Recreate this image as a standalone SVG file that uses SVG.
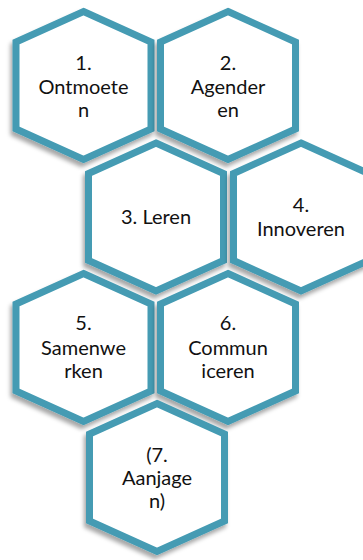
<svg xmlns="http://www.w3.org/2000/svg" xmlns:xlink="http://www.w3.org/1999/xlink" width="363" height="560" viewBox="0 0 363 560">
  <style>
    .hex { fill: #ffffff; stroke: #449BB3; stroke-width: 7; stroke-linejoin: miter; filter: url(#shadow); }
    .lbl { font-family: Lato, "Open Sans", "Liberation Sans", sans-serif; font-size: 20px; fill: #111111; text-anchor: middle; }
  </style>
  <defs>
    <filter id="shadow" x="-20%" y="-20%" width="140%" height="140%">
      <feDropShadow dx="-2" dy="4" stdDeviation="2" flood-color="#000000" flood-opacity="0.35"/>
    </filter>
    <path id="hexshape" d="M0,-74 L67.5,-43.5 L67.5,43.5 L0,74 L-67.5,43.5 L-67.5,-43.5 Z"/>
  </defs>
  <rect width="363" height="560" fill="#ffffff"/>
  <g id="connectors"></g>

  <g id="node1" transform="translate(83.5,85.5)">
    <use xlink:href="#hexshape" href="#hexshape" class="hex"/>
    <text class="lbl" x="0" y="-15.5">1.</text>
    <text class="lbl" x="0" y="8.5">Ontmoete</text>
    <text class="lbl" x="0" y="31.5">n</text>
  </g>
  <g id="node2" transform="translate(228,85.5)">
    <use xlink:href="#hexshape" href="#hexshape" class="hex"/>
    <text class="lbl" x="0" y="-15.5">2.</text>
    <text class="lbl" x="0" y="8.5">Agender</text>
    <text class="lbl" x="0" y="31.5">en</text>
  </g>
  <g id="node3" transform="translate(156,217)">
    <use xlink:href="#hexshape" href="#hexshape" class="hex"/>
    <text class="lbl" x="0" y="7">3. Leren</text>
  </g>
  <g id="node4" transform="translate(301,217)">
    <use xlink:href="#hexshape" href="#hexshape" class="hex"/>
    <text class="lbl" x="0" y="-5">4.</text>
    <text class="lbl" x="0" y="19">Innoveren</text>
  </g>
  <g id="node5" transform="translate(83.5,347.5)">
    <use xlink:href="#hexshape" href="#hexshape" class="hex"/>
    <text class="lbl" x="0" y="-17.5">5.</text>
    <text class="lbl" x="0" y="7.5">Samenwe</text>
    <text class="lbl" x="0" y="30.5">rken</text>
  </g>
  <g id="node6" transform="translate(228,347.5)">
    <use xlink:href="#hexshape" href="#hexshape" class="hex"/>
    <text class="lbl" x="0" y="-17.5">6.</text>
    <text class="lbl" x="0" y="7.5">Commun</text>
    <text class="lbl" x="0" y="30.5">iceren</text>
  </g>
  <g id="node7" transform="translate(157,477.5)">
    <use xlink:href="#hexshape" href="#hexshape" class="hex"/>
    <text class="lbl" x="0" y="-16">(7.</text>
    <text class="lbl" x="0" y="7.5">Aanjage</text>
    <text class="lbl" x="0" y="30.5">n)</text>
  </g>
</svg>
